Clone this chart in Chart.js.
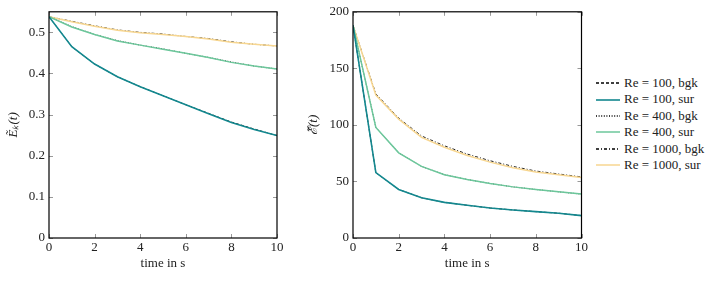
<!DOCTYPE html>
<html>
<head>
<meta charset="utf-8">
<script src="https://cdn.jsdelivr.net/npm/chart.js@4/dist/chart.umd.min.js"></script>
<style>
html,body{margin:0;padding:0;background:#fff;width:721px;height:307px;overflow:hidden;position:relative;font-family:"Liberation Serif",serif;}
canvas{position:absolute;top:0;}
#legend{position:absolute;left:596px;top:75px;font-size:13px;color:#222;}
#legend .row{height:16.4px;line-height:16.4px;white-space:nowrap;display:flex;align-items:center;}
#legend svg{margin-right:4px;}
</style>
</head>
<body>
<canvas id="c1" width="290" height="307" style="left:0px;width:290px;height:307px"></canvas>
<canvas id="c2" width="290" height="307" style="left:300px;width:290px;height:307px"></canvas>
<div id="legend"></div>
<script>
// ---- data ----
const time = [0,1,2,3,4,5,6,7,8,9,10];

const ekBgk100  = [0.538,0.465,0.423,0.392,0.368,0.346,0.324,0.303,0.282,0.265,0.249];
const ekSur100  = [0.538,0.465,0.423,0.392,0.368,0.346,0.324,0.302,0.281,0.264,0.249];
const ekBgk400  = [0.538,0.514,0.495,0.480,0.469,0.460,0.449,0.439,0.428,0.418,0.411];
const ekSur400  = [0.538,0.513,0.495,0.479,0.469,0.459,0.449,0.439,0.427,0.418,0.411];
const ekBgk1000 = [0.538,0.527,0.516,0.506,0.500,0.496,0.490,0.485,0.477,0.471,0.467];
const ekSur1000 = [0.538,0.526,0.515,0.505,0.499,0.495,0.490,0.484,0.476,0.471,0.467];

const enBgk100  = [188,57.8,42.9,35.6,31.5,28.9,26.5,24.8,23.3,21.9,19.8];
const enSur100  = [188,57.8,42.9,35.6,31.5,28.9,26.5,24.8,23.3,21.9,19.8];
const enBgk400  = [188,97.8,75.3,63.3,56.0,51.7,48.2,45.2,42.9,40.8,38.8];
const enSur400  = [188,97.8,75.3,63.3,56.0,51.7,48.2,45.2,42.9,40.8,38.8];
const enBgk1000 = [188,127.5,106.0,90.2,81.5,74.2,68.3,63.3,59.2,56.6,54.0];
const enSur1000 = [188,126.4,105.1,89.0,80.2,73.0,67.1,62.2,58.4,56.0,53.4];

const seriesLabels = ["Re = 100, bgk","Re = 100, sur","Re = 400, bgk","Re = 400, sur","Re = 1000, bgk","Re = 1000, sur"];
const xTicks = [0,2,4,6,8,10];
const ekTicks = [0,0.1,0.2,0.3,0.4,0.5];
const enTicks = [0,50,100,150,200];

// ---- styles ----
const styles = [
  {color:"#000000", width:0.9, dash:[3,2], order:1},
  {color:"#13888f", width:1.6, dash:[], order:0},
  {color:"#000000", width:0.9, dash:[1,1.6], order:1},
  {color:"#6cc79b", width:1.5, dash:[], order:0},
  {color:"#000000", width:0.9, dash:[3,2,1,2], order:1},
  {color:"#f7d690", width:1.5, dash:[], order:0},
];
const FONT = {family:"'Liberation Serif', serif", size:13};
const FONT_I = {family:"'Liberation Serif', serif", size:13, style:'italic'};
const TXT = "#222";

function mkDatasets(arrs){
  return arrs.map((a,i)=>({
    label: seriesLabels[i],
    data: a.map((v,j)=>({x:time[j], y:v})),
    borderColor: styles[i].color,
    borderWidth: styles[i].width,
    borderDash: styles[i].dash,
    order: styles[i].order,
    pointRadius: 0,
    tension: 0,
    fill: false
  }));
}

const framePlugin = {
  id:'frame',
  afterDatasetsDraw(chart){
    const {ctx, chartArea:a, scales} = chart;
    const x = scales.x, y = scales.y;
    ctx.save();
    ctx.strokeStyle = "#999";
    ctx.lineWidth = 1;
    const L = 4;
    x.ticks.forEach(t=>{
      const px = Math.round(x.getPixelForValue(t.value))+0.5;
      ctx.beginPath();
      ctx.moveTo(px, a.bottom); ctx.lineTo(px, a.bottom-L);
      ctx.moveTo(px, a.top); ctx.lineTo(px, a.top+L);
      ctx.stroke();
    });
    y.ticks.forEach(t=>{
      const py = Math.round(y.getPixelForValue(t.value))+0.5;
      ctx.beginPath();
      ctx.moveTo(a.left, py); ctx.lineTo(a.left+L, py);
      ctx.moveTo(a.right, py); ctx.lineTo(a.right-L, py);
      ctx.stroke();
    });
    ctx.strokeStyle = "#000";
    ctx.lineWidth = 1.2;
    ctx.strokeRect(a.left, a.top, a.right-a.left, a.bottom-a.top);
    ctx.restore();
  }
};

function mkChart(id, arrs, ymax, yTickVals, yTitle, yWidth, padRight){
  return new Chart(document.getElementById(id), {
    type:'line',
    data:{datasets: mkDatasets(arrs)},
    options:{
      responsive:false, animation:false, devicePixelRatio:1,
      layout:{padding:{top:10, right:padRight, left:0, bottom:0}},
      plugins:{legend:{display:false}, tooltip:{enabled:false}},
      scales:{
        x:{type:'linear', min:0, max:10,
           afterBuildTicks(s){ s.ticks = xTicks.map(v=>({value:v})); },
           afterFit(s){ s.height = 69; },
           grid:{display:false, drawTicks:false},
           border:{display:false},
           ticks:{font:FONT, color:TXT, padding:2, maxRotation:0},
           title:{display:true, text:"time in s", font:FONT, color:TXT, padding:{top:0,bottom:36}}
        },
        y:{type:'linear', min:0, max:ymax,
           afterBuildTicks(s){ s.ticks = yTickVals.map(v=>({value:v})); },
           afterFit(s){ s.width = yWidth; },
           grid:{display:false, drawTicks:false},
           border:{display:false},
           ticks:{font:FONT, color:TXT, padding:4},
           title:{display:true, text:yTitle, font:FONT_I, color:TXT, padding:{top:6,bottom:0}}
        }
      }
    },
    plugins:[framePlugin]
  });
}

mkChart('c1', [ekBgk100,ekSur100,ekBgk400,ekSur400,ekBgk1000,ekSur1000], 0.55, ekTicks, "Ẽₖ(t)", 49, 13);
mkChart('c2', [enBgk100,enSur100,enBgk400,enSur400,enBgk1000,enSur1000], 200, enTicks, "ℰ̃(t)", 53, 8);

// legend
const lg = document.getElementById('legend');
seriesLabels.forEach((lab,i)=>{
  const s = styles[i];
  const row = document.createElement('div'); row.className='row';
  const svgNS = "http://www.w3.org/2000/svg";
  const svg = document.createElementNS(svgNS,'svg');
  svg.setAttribute('width','24'); svg.setAttribute('height','8');
  const ln = document.createElementNS(svgNS,'line');
  ln.setAttribute('x1','0'); ln.setAttribute('x2','24'); ln.setAttribute('y1','4'); ln.setAttribute('y2','4');
  ln.setAttribute('stroke', s.color);
  ln.setAttribute('stroke-width', s.dash.length ? 1.4 : s.width);
  if (s.dash.length) ln.setAttribute('stroke-dasharray', s.dash.join(' '));
  svg.appendChild(ln);
  row.appendChild(svg);
  const sp = document.createElement('span'); sp.textContent = lab;
  row.appendChild(sp);
  lg.appendChild(row);
});
</script>
</body>
</html>
